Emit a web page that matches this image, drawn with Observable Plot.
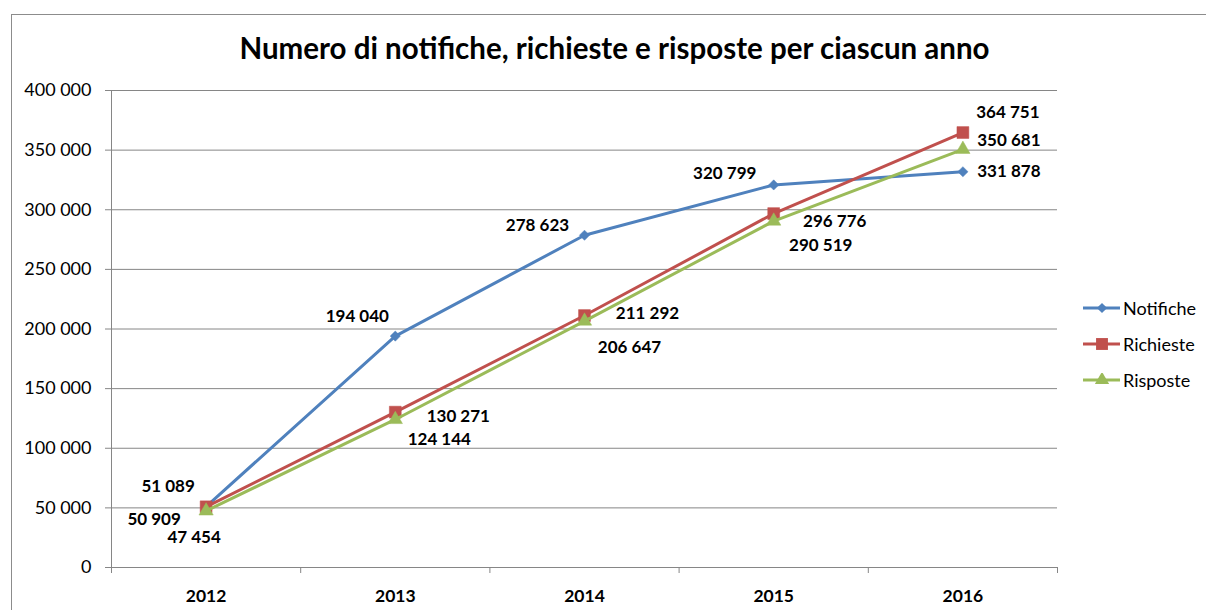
<!DOCTYPE html>
<html><head><meta charset="utf-8">
<script src="https://cdn.jsdelivr.net/npm/d3@7"></script>
<script src="https://cdn.jsdelivr.net/npm/@observablehq/plot@0.6"></script>
<style>
body{margin:0;background:#fff;}
#wrap{position:relative;width:1206px;height:610px;overflow:hidden;font-family:Lato,"Open Sans",sans-serif;}
#border{position:absolute;left:11px;top:14px;width:1400px;height:800px;border:1px solid #8c8c8c;}
#title{position:absolute;left:0;width:1229px;top:31px;text-align:center;font-weight:bold;font-size:29.5px;line-height:34px;color:#000;}
#chart{position:absolute;left:0;top:0;}
#legend{position:absolute;left:1083px;top:290px;font-size:18px;color:#000;}
.li{display:flex;align-items:center;height:36px;}
.li svg{margin-right:3px;}
</style></head>
<body>
<div id="wrap">
  <div id="border"></div>
  <div id="chart"></div>
  <div id="title">Numero di notifiche, richieste e risposte per ciascun anno</div>
  <div id="legend"></div>
</div>
<script>
const years = [2012, 2013, 2014, 2015, 2016];
const seriesNames = ["Notifiche", "Richieste", "Risposte"];
const notifiche = [51089, 194040, 278623, 320799, 331878];
const richieste = [50909, 130271, 211292, 296776, 364751];
const risposte  = [47454, 124144, 206647, 290519, 350681];
const yTicks = [0, 50000, 100000, 150000, 200000, 250000, 300000, 350000, 400000];

// styles
const colors = ["#4F81BD", "#C0504D", "#9BBB59"];
const symbols = ["diamond2", "square", "triangle"];
const radii = [4.6, 6.7, 5.3];
const labelOffsets = {
  Notifiche: [[-38,-20],[-38,-20],[-47,-10],[-49,-11],[46,0]],
  Richieste: [[-52,13],[63,4],[63,-2],[61,8],[45,-20]],
  Risposte:  [[-12,27],[44,20],[45,26],[47,24],[46,-9]]
};

const valuesBySeries = [notifiche, richieste, risposte];
const data = seriesNames.flatMap((s, i) => years.map((y, j) => ({series: s, year: y, value: valuesBySeries[i][j], idx: j})));
const fmt = d => d3.format(",")(d).replace(/,/g, "\u00a0");
const boundaries = years.map(y => y - 0.5).concat([years[years.length - 1] + 0.5]);

const marks = [
  Plot.ruleY(yTicks, {stroke: "#868686", strokeWidth: 1}),
  Plot.ruleX([boundaries[0]], {stroke: "#868686", strokeWidth: 1}),
  Plot.axisY({ticks: yTicks, tickSize: 6, tickPadding: 14, tickFormat: fmt, fontSize: 18, stroke: "#868686", fill: "#000", label: null}),
  Plot.axisX({ticks: boundaries, tickSize: 6, tickFormat: () => "", stroke: "#868686", label: null}),
  Plot.axisX({ticks: years, tickSize: 0, tickPadding: 22, tickFormat: d => String(d), fontSize: 17.5, fontWeight: "bold", fill: "#000", label: null})
];
seriesNames.forEach((s, i) => {
  const sd = data.filter(d => d.series === s);
  marks.push(Plot.line(sd, {x: "year", y: "value", stroke: colors[i], strokeWidth: 3}));
  marks.push(Plot.dot(sd, {x: "year", y: "value", fill: colors[i], stroke: colors[i], strokeWidth: 0.5, symbol: () => symbols[i], r: radii[i]}));
});
seriesNames.forEach((s, i) => {
  data.filter(d => d.series === s).forEach(d => {
    const [dx, dy] = labelOffsets[s][d.idx];
    marks.push(Plot.text([d], {x: "year", y: "value", text: d => fmt(d.value), dx, dy, fontSize: 17, fontWeight: "bold", fill: "#000"}));
  });
});

const chart = Plot.plot({
  width: 1206,
  height: 610,
  marginLeft: 111,
  marginRight: 149,
  marginTop: 90,
  marginBottom: 43,
  style: {fontFamily: "Lato, 'Open Sans', sans-serif", background: "transparent", overflow: "visible"},
  x: {type: "linear", domain: [boundaries[0], boundaries[boundaries.length - 1]]},
  y: {domain: [yTicks[0], yTicks[yTicks.length - 1]]},
  symbol: {type: "identity"},
  marks
});
document.getElementById("chart").appendChild(chart);

// legend
const legend = d3.select("#legend");
const symMap = {diamond2: d3.symbolDiamond2, square: d3.symbolSquare, triangle: d3.symbolTriangle};
seriesNames.forEach((s, i) => {
  const item = legend.append("div").attr("class", "li");
  const svg = item.append("svg").attr("width", 37).attr("height", 14);
  svg.append("line").attr("x1", 0).attr("x2", 37).attr("y1", 7).attr("y2", 7).attr("stroke", colors[i]).attr("stroke-width", 3);
  svg.append("path").attr("transform", "translate(19,7)").attr("d", d3.symbol(symMap[symbols[i]], Math.PI * radii[i] * radii[i])()).attr("fill", colors[i]);
  item.append("span").text(s);
});
</script>
</body></html>
